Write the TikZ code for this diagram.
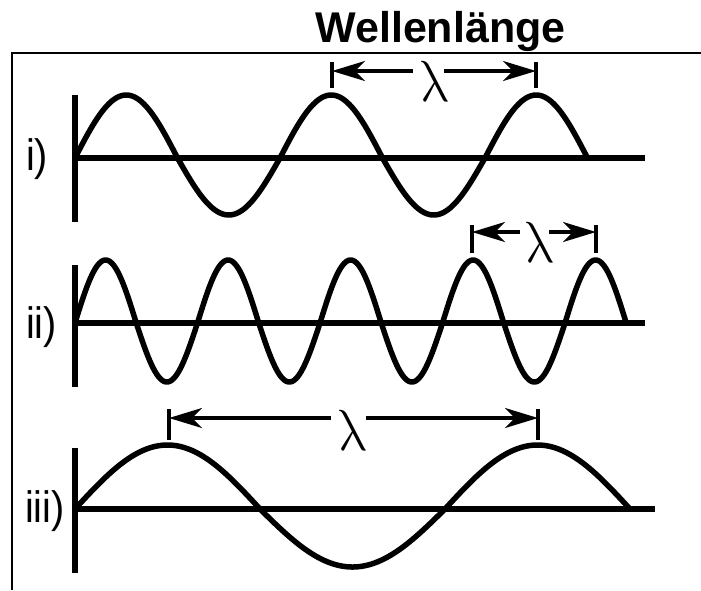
\documentclass[tikz,border=0pt]{standalone}
\usepackage{fontspec}
\usepackage{unicode-math}
\setmainfont{Liberation Sans}
\setmathfont{Latin Modern Math}
\usetikzlibrary{arrows.meta}
\begin{document}
\begin{tikzpicture}[x=1pt,y=-1pt,
  frame/.style={line width=2pt},
  wave/.style={line width=5.5pt, line join=round},
  axis/.style={line width=5.5pt},
  tickmark/.style={line width=3.5pt},
  dimarrow/.style={line width=3.5pt, -{Stealth[length=33pt,width=20pt,inset=10pt]}},
  lab/.style={font=\fontsize{44}{44}\selectfont, anchor=base west, inner sep=0pt, xscale=0.9},
  lam/.style={font=\fontsize{58}{58}\selectfont, inner sep=0pt, xscale=0.85},
  ttl/.style={font=\fontsize{43}{43}\selectfont\bfseries, anchor=base, inner sep=0pt}
]
\useasboundingbox (0,0) rectangle (701,590);
% frame
\coordinate (fb) at (12,590); \coordinate (fc) at (12,53); \coordinate (fr) at (701,53);
\draw[frame] (fb) -- (fc) -- (fr);
% title
\node[ttl] (title) at (440.5,42) {Wellenlänge};

% ---------- i)
\coordinate (a1t) at (75,95); \coordinate (a1b) at (75,222);
\coordinate (b1s) at (75,158); \coordinate (b1e) at (645,158);
\draw[axis] (a1t) -- (a1b);
\draw[axis] (b1s) -- (b1e);
\draw[wave] plot[domain=75:587.5, samples=240] (\x, {158 - 63*max(sin(1.75610*(\x-75)),0) - 57*min(sin(1.75610*(\x-75)),0)});
\node[lab] (l1) at (26,170) {i)};
\coordinate (t1a) at (332,62); \coordinate (t1ab) at (332,88);
\coordinate (t1b) at (536,62); \coordinate (t1bb) at (536,88);
\draw[tickmark] (t1a) -- (t1ab);
\draw[tickmark] (t1b) -- (t1bb);
\node[lam] (lam1) at (435,82) {$\symup{\lambda}$};
\coordinate (d1a) at (332,71); \coordinate (d1l) at (413,71);
\coordinate (d1b) at (536,71); \coordinate (d1r) at (444,71);
\draw[dimarrow] (d1l) -- (d1a);
\draw[dimarrow] (d1r) -- (d1b);

% ---------- ii)
\coordinate (a2t) at (75,265); \coordinate (a2b) at (75,387);
\coordinate (b2s) at (75,323); \coordinate (b2e) at (645,323);
\draw[axis] (a2t) -- (a2b);
\draw[axis] (b2s) -- (b2e);
\draw[wave] plot[domain=75:626.25, samples=400] (\x, {323 - 63*max(sin(2.93878*(\x-75)),0) - 59*min(sin(2.93878*(\x-75)),0)});
\node[lab] (l2) at (26,338) {ii)};
\coordinate (t2a) at (472,225); \coordinate (t2ab) at (472,253);
\coordinate (t2b) at (596,225); \coordinate (t2bb) at (596,253);
\draw[tickmark] (t2a) -- (t2ab);
\draw[tickmark] (t2b) -- (t2bb);
\node[lam] (lam2) at (540,243) {$\symup{\lambda}$};
\coordinate (d2a) at (472,232); \coordinate (d2l) at (520,232);
\coordinate (d2b) at (596,232); \coordinate (d2r) at (549,232);
\draw[dimarrow] (d2l) -- (d2a);
\draw[dimarrow] (d2r) -- (d2b);

% ---------- iii)
\coordinate (a3t) at (75,448); \coordinate (a3b) at (75,573);
\coordinate (b3s) at (75,509); \coordinate (b3e) at (655,509);
\draw[axis] (a3t) -- (a3b);
\draw[axis] (b3s) -- (b3e);
\draw[wave] plot[domain=75:630, samples=300] (\x, {509 - 64*max(sin(0.972973*(\x-75)),0) - 58*min(sin(0.972973*(\x-75)),0)});
\node[lab] (l3) at (25,522) {iii)};
\coordinate (t3a) at (169,409); \coordinate (t3ab) at (169,440);
\coordinate (t3b) at (538,409); \coordinate (t3bb) at (538,440);
\draw[tickmark] (t3a) -- (t3ab);
\draw[tickmark] (t3b) -- (t3bb);
\node[lam] (lam3) at (353,431) {$\symup{\lambda}$};
\coordinate (d3a) at (169,418); \coordinate (d3l) at (331,418);
\coordinate (d3b) at (538,418); \coordinate (d3r) at (366,418);
\draw[dimarrow] (d3l) -- (d3a);
\draw[dimarrow] (d3r) -- (d3b);
\end{tikzpicture}
\end{document}
